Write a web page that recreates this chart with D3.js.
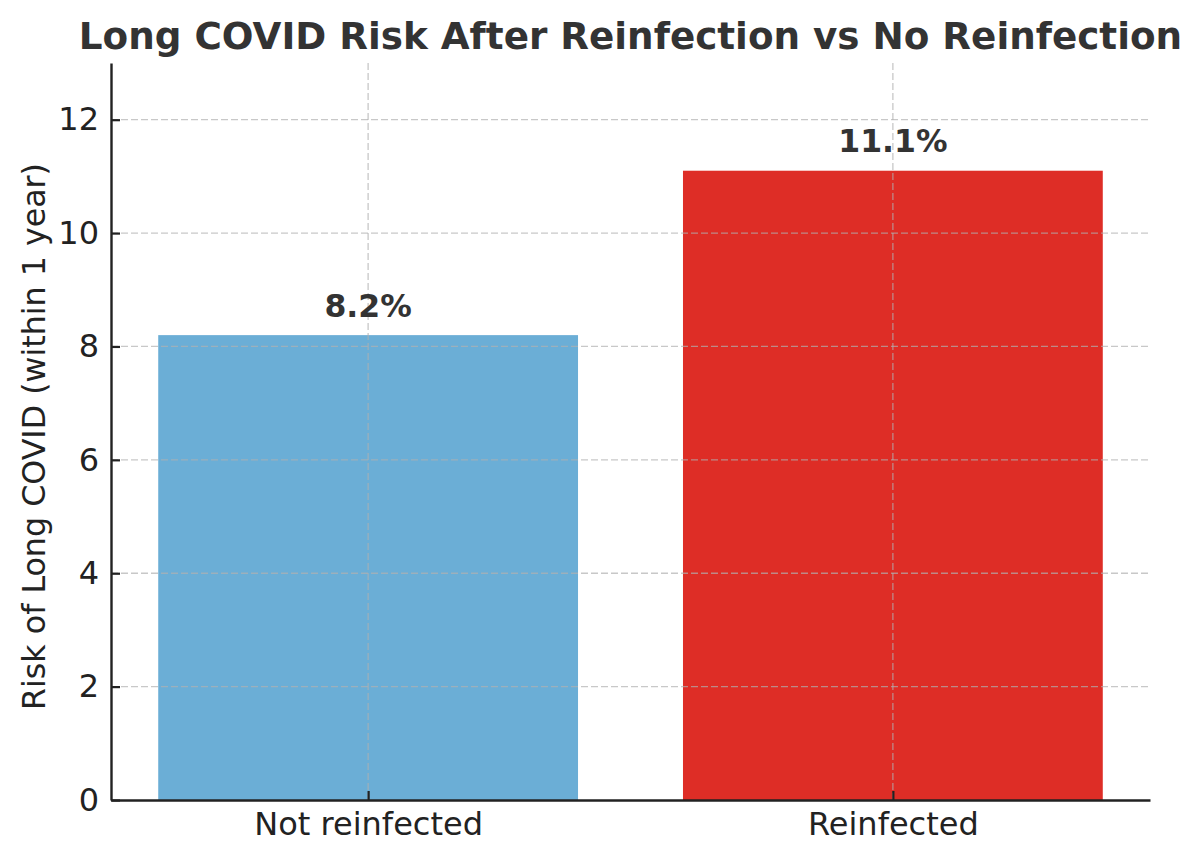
<!DOCTYPE html>
<html>
<head>
<meta charset="utf-8">
<script src="https://cdn.jsdelivr.net/npm/d3@7"></script>
<style>
  html, body { margin: 0; padding: 0; background: #fff; }
  svg { display: block; }
  text { font-family: "DejaVu Sans", sans-serif; }
</style>
</head>
<body>
<svg id="chart" width="1200" height="861"></svg>
<script>
const categories = ["Not reinfected", "Reinfected"];
const values = [8.2, 11.1];
const barColors = ["#6baed6", "#de2d26"];
const yTicks = [0, 2, 4, 6, 8, 10, 12];
const titleText = "Long COVID Risk After Reinfection vs No Reinfection";
const yLabelText = "Risk of Long COVID (within 1 year)";

const svg = d3.select("#chart");
const m = { left: 111, right: 1150, top: 63, bottom: 800 };

const x = d3.scaleLinear().domain([-0.49, 1.49]).range([m.left, m.right]);
const y = d3.scaleLinear().domain([0, 13]).range([m.bottom, m.top]);
const barW = 0.8;

// bars
svg.append("g").selectAll("rect").data(values).join("rect")
  .attr("x", (d, i) => x(i - barW / 2))
  .attr("width", (d, i) => x(i + barW / 2) - x(i - barW / 2))
  .attr("y", d => y(d))
  .attr("height", d => y(0) - y(d))
  .attr("fill", (d, i) => barColors[i]);

// grid (above bars, like matplotlib)
const grid = svg.append("g").attr("stroke", "#b0b0b0").attr("stroke-opacity", 0.7)
  .attr("stroke-width", 1.3).attr("stroke-dasharray", "7,3").attr("fill", "none");
grid.selectAll("line.h").data(yTicks.filter(t => t > 0)).join("line").attr("class", "h")
  .attr("x1", m.left).attr("x2", m.right)
  .attr("y1", d => y(d)).attr("y2", d => y(d));
grid.selectAll("line.v").data(categories).join("line").attr("class", "v")
  .attr("x1", (d, i) => x(i)).attr("x2", (d, i) => x(i))
  .attr("y1", m.top).attr("y2", m.bottom);

// y axis
const yAxis = d3.axisLeft(y).tickValues(yTicks).tickSizeInner(-9).tickSizeOuter(0).tickPadding(12)
  .tickFormat(d3.format("d"));
const gy = svg.append("g").attr("transform", `translate(${m.left},0)`).call(yAxis);
gy.select(".domain").attr("stroke", "#222").attr("stroke-width", 2.4);
gy.selectAll(".tick line").attr("stroke", "#222").attr("stroke-width", 2.2);
gy.selectAll(".tick text").attr("font-size", 32).attr("fill", "#222")
  .attr("font-family", "DejaVu Sans");

// x axis
const xAxis = d3.axisBottom(x).tickValues(categories.map((c, i) => i))
  .tickFormat(i => categories[i]).tickSizeInner(-9).tickSizeOuter(0).tickPadding(12);
const gx = svg.append("g").attr("transform", `translate(0,${m.bottom})`).call(xAxis);
gx.select(".domain").attr("stroke", "#222").attr("stroke-width", 2.4);
gx.selectAll(".tick line").attr("stroke", "#222").attr("stroke-width", 2.2);
gx.selectAll(".tick text").attr("font-size", 32).attr("fill", "#222")
  .attr("font-family", "DejaVu Sans");

// value labels
svg.append("g").selectAll("text").data(values).join("text")
  .attr("x", (d, i) => x(i))
  .attr("y", d => y(d + 0.3) - 1.5)
  .attr("text-anchor", "middle")
  .attr("font-size", 31.5).attr("font-weight", "bold").attr("fill", "#333")
  .text(d => d.toFixed(1) + "%");

// title
svg.append("text").attr("x", (m.left + m.right) / 2).attr("y", 49)
  .attr("text-anchor", "middle").attr("font-size", 37.3).attr("font-weight", "bold")
  .attr("fill", "#333").text(titleText);

// y label
svg.append("text")
  .attr("transform", `translate(45,${(m.top + m.bottom) / 2 + 5}) rotate(-90)`)
  .attr("text-anchor", "middle").attr("font-size", 31.7).attr("fill", "#222")
  .text(yLabelText);
</script>
</body>
</html>
